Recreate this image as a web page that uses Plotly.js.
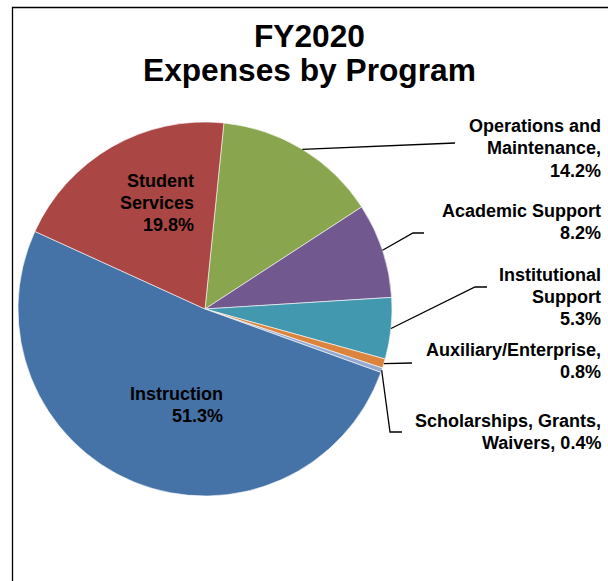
<!DOCTYPE html>
<html>
<head>
<meta charset="utf-8">
<script src="https://cdn.plot.ly/plotly-3.0.1.min.js"></script>
<style>html,body{margin:0;padding:0;background:#fff}#chart{width:608px;height:581px}</style>
</head>
<body>
<div id="chart"></div>
<script>
// ---- data ----
const categories = ['Operations and Maintenance', 'Academic Support', 'Institutional Support',
  'Auxiliary/Enterprise', 'Scholarships, Grants, Waivers', 'Instruction', 'Student Services'];
const shares = [14.2, 8.2, 5.3, 0.8, 0.4, 51.3, 19.8];
const labelText = ['Operations and<br>Maintenance,', 'Academic Support', 'Institutional<br>Support',
  'Auxiliary/Enterprise,', 'Scholarships, Grants,<br>Waivers,', 'Instruction', 'Student<br>Services'];
const labelSep = ['<br>', '<br>', '<br>', '<br>', ' ', '<br>', '<br>'];
const sliceColors = ['#89A54E', '#71588F', '#4198AF', '#DB843D', '#93A9CF', '#4572A7', '#AA4643'];
const titleLines = ['FY2020', 'Expenses by Program'];

// ---- layout helpers (pixels -> paper, margins are zero) ----
const W = 608, H = 581;
const X = p => p / W, Y = p => 1 - p / H;
const cx = 205, cy = 309, R = 187, rot = 5.8;
const FONT = 'Liberation Sans, Arial, sans-serif';
const LINE_GAP = 22;

// label placement: right edge x, block centre y, leader elbow points
const place = [
  {x: 603, y: 148.5, pts: [[455, 143]]},
  {x: 603, y: 222, pts: [[413, 233], [424, 233]]},
  {x: 603, y: 296.8, pts: [[475, 287], [487, 287]]},
  {x: 603, y: 360.7, pts: [[412, 363]]},
  {x: 603, y: 432.4, pts: [[390, 432], [402, 432]]},
  {x: 225, y: 404.8, pts: null},
  {x: 196, y: 203.3, pts: null}
];

const total = shares.reduce((a, b) => a + b, 0);
const annotations = [];
const shapes = [];
let cum = 0;
shares.forEach((v, i) => {
  const mid = (rot + (cum + v / 2) / total * 360) * Math.PI / 180;
  cum += v;
  const p = place[i];
  const lines = (labelText[i] + labelSep[i] + v.toFixed(1) + '%').split('<br>');
  lines.forEach((ln, k) => {
    annotations.push({
      xref: 'paper', yref: 'paper', x: X(p.x), y: Y(p.y + (k - (lines.length - 1) / 2) * LINE_GAP),
      xanchor: 'right', yanchor: 'middle', align: 'right', showarrow: false, text: ln,
      font: {family: FONT, size: 18, color: '#000', weight: 'bold'}
    });
  });
  if (p.pts) {
    const sx = cx + R * Math.sin(mid), sy = cy - R * Math.cos(mid);
    let d = 'M' + X(sx) + ',' + Y(sy);
    p.pts.forEach(q => { d += ' L' + X(q[0]) + ',' + Y(q[1]); });
    shapes.push({type: 'path', xref: 'paper', yref: 'paper', path: d, line: {color: '#000', width: 1.3}});
  }
});

// title lines
const titleY = [35.5, 70.5];
titleLines.forEach((t, k) => {
  annotations.push({
    xref: 'paper', yref: 'paper', x: X(310), y: Y(titleY[k]), xanchor: 'center', yanchor: 'middle',
    showarrow: false, text: t,
    font: {family: FONT, size: 31.7, color: '#000', weight: 'bold'}
  });
});

// chart frame
shapes.push({type: 'rect', xref: 'paper', yref: 'paper', x0: X(12.5), y0: Y(7.5), x1: X(640), y1: Y(640),
  line: {color: '#000', width: 1.3}, fillcolor: 'rgba(0,0,0,0)'});

const trace = {
  type: 'pie', labels: categories, values: shares, sort: false, direction: 'clockwise', rotation: rot,
  marker: {colors: sliceColors, line: {color: '#ffffff', width: 0.6}},
  textinfo: 'none', textposition: 'none', hoverinfo: 'label+percent', showlegend: false,
  domain: {x: [X(cx - R), X(cx + R)], y: [Y(cy + R), Y(cy - R)]}
};

const layout = {
  width: W, height: H, margin: {l: 0, r: 0, t: 0, b: 0},
  paper_bgcolor: '#fff', showlegend: false,
  annotations: annotations, shapes: shapes
};

Plotly.newPlot('chart', [trace], layout, {staticPlot: true, displayModeBar: false});
</script>
</body>
</html>
